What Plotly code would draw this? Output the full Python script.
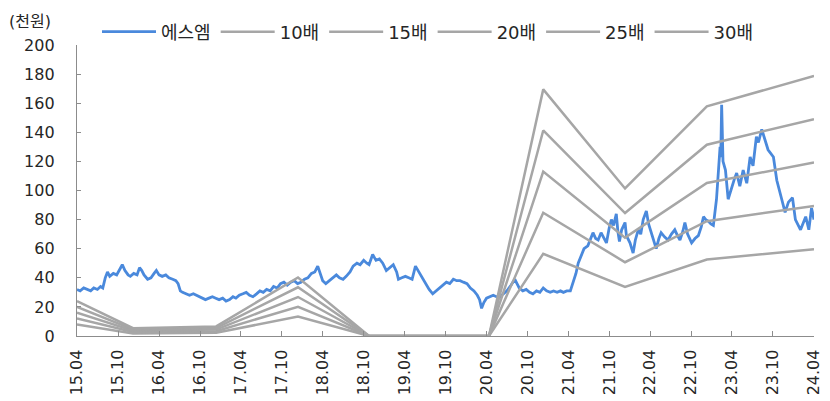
import plotly.graph_objects as go

# ---- price series (에스엠, 천원) ----
price_dates = [
 "2015-04-01","2015-04-15","2015-05-01","2015-05-15","2015-06-01","2015-06-15","2015-07-01","2015-07-15","2015-07-25",
 "2015-08-05","2015-08-15","2015-08-25","2015-09-10","2015-09-25","2015-10-05","2015-10-20","2015-11-01","2015-11-15",
 "2015-11-25","2015-12-10","2015-12-25","2016-01-05","2016-01-15","2016-01-25","2016-02-10","2016-02-25","2016-03-10",
 "2016-03-20","2016-04-01","2016-04-15","2016-05-01","2016-05-15","2016-06-01","2016-06-15","2016-06-25","2016-07-05",
 "2016-07-15","2016-08-01","2016-08-15","2016-09-01","2016-09-15","2016-10-01","2016-10-15","2016-10-25","2016-11-10",
 "2016-11-25","2016-12-10","2016-12-25","2017-01-10","2017-01-25","2017-02-10","2017-02-25","2017-03-10","2017-03-25",
 "2017-04-10","2017-04-25","2017-05-10","2017-05-25","2017-06-10","2017-06-25","2017-07-10","2017-07-25","2017-08-10",
 "2017-08-25","2017-09-10","2017-09-25","2017-10-10","2017-10-25","2017-11-10","2017-11-25","2017-12-10","2017-12-25",
 "2018-01-10","2018-01-25","2018-02-10","2018-02-25","2018-03-10","2018-03-20","2018-04-01","2018-04-15","2018-05-01",
 "2018-05-15","2018-06-01","2018-06-15","2018-07-01","2018-07-15","2018-08-01","2018-08-15","2018-09-01","2018-09-15",
 "2018-10-01","2018-10-15","2018-10-25","2018-11-10","2018-11-25","2018-12-10","2018-12-25","2019-01-10","2019-01-25",
 "2019-02-10","2019-02-25","2019-03-05","2019-03-20","2019-04-05","2019-04-20","2019-05-05","2019-05-20","2019-06-05",
 "2019-06-20","2019-07-05","2019-07-20","2019-08-05","2019-08-20","2019-09-05","2019-09-20","2019-10-05","2019-10-20",
 "2019-11-05","2019-11-20","2019-12-05","2019-12-20","2020-01-05","2020-01-20","2020-02-05","2020-02-20","2020-03-01",
 "2020-03-10","2020-03-20","2020-04-01","2020-04-15","2020-05-01","2020-05-15","2020-06-01","2020-06-15","2020-07-01",
 "2020-07-20","2020-08-05","2020-08-15","2020-08-25","2020-09-10","2020-09-25","2020-10-10","2020-10-25","2020-11-10",
 "2020-11-25","2020-12-10","2020-12-25","2021-01-10","2021-01-25","2021-02-10","2021-02-25","2021-03-10","2021-03-25",
 "2021-04-10","2021-04-20","2021-05-05","2021-05-15","2021-05-27","2021-06-10","2021-06-27","2021-07-10","2021-07-20",
 "2021-08-01","2021-08-12","2021-08-25","2021-09-05","2021-09-18","2021-09-30","2021-10-10","2021-10-20","2021-11-01",
 "2021-11-08","2021-11-15","2021-11-25","2021-12-10","2021-12-16","2022-01-01","2022-01-15","2022-01-25","2022-02-07",
 "2022-02-18","2022-03-01","2022-03-15","2022-03-25","2022-04-07","2022-04-18","2022-04-28","2022-05-10","2022-05-20",
 "2022-06-05","2022-06-20","2022-07-05","2022-07-20","2022-08-01","2022-08-12","2022-08-25","2022-09-03","2022-09-15",
 "2022-10-03","2022-10-18","2022-11-02","2022-11-15","2022-11-25","2022-12-05","2022-12-16","2022-12-28","2023-01-08",
 "2023-01-22","2023-02-01","2023-02-07","2023-02-10","2023-02-14","2023-02-20","2023-03-03","2023-03-15","2023-04-01",
 "2023-04-12","2023-04-22","2023-05-06","2023-05-21","2023-06-06","2023-06-21","2023-07-04","2023-07-19","2023-07-28",
 "2023-08-12","2023-08-25","2023-09-09","2023-10-03","2023-10-18","2023-11-09","2023-11-24","2023-12-09","2023-12-27",
 "2024-01-09","2024-02-01","2024-02-24","2024-03-09","2024-03-21","2024-04-01",
]
price_values = [
 32,31,33,32,31,33,32,34,33,
 40,44,41,43,42,45,49,45,42,
 41,43,42,47,45,42,39,40,43,
 45,42,41,42,40,39,38,36,31,
 30,29,28,29,28,27,26,25,26,
 27,26,25,26,24,25,27,26,28,
 29,30,28,27,29,31,30,32,31,
 34,33,36,37,35,37,38,36,37,
 39,40,43,44,48,44,38,36,38,
 40,42,40,39,41,44,48,50,49,
 52,50,49,56,52,53,50,45,47,
 49,44,39,40,41,40,39,48,44,
 40,36,32,29,31,33,35,37,36,
 39,38,38,37,36,33,31,28,25,
 19,23,26,27,28,27,27,29,31,
 35,39,36,33,31,32,30,29,31,
 30,33,31,30,31,30,31,30,31,
 31,36,43,50,55,60,62,68,71,
 67,66,71,68,64,74,80,76,84,
 72,65,73,78,69,64,57,66,73,
 70,80,86,77,71,66,60,67,71,
 68,66,70,73,69,66,72,78,70,
 64,67,69,75,82,80,79,77,76,
 94,117,130,123,159,120,114,94,103,
 108,112,103,114,105,123,117,137,133,
 142,135,128,123,107,94,85,92,95,
 80,73,82,73,88,80,
]

# ---- PER band (EPS, 천원) ----
band_dates = ["2015-04-01","2015-12-07","2016-12-12","2017-12-12","2018-10-25",
              "2020-04-12","2020-12-10","2021-12-10","2022-12-10","2024-04-01"]
band_eps = [0.80, 0.18, 0.22, 1.34, 0.0, 0.0, 5.65, 3.38, 5.26, 5.96]
multiples = [10, 15, 20, 25, 30]

tick_vals = ["2015-04-01","2015-10-01","2016-04-01","2016-10-01","2017-04-01","2017-10-01",
             "2018-04-01","2018-10-01","2019-04-01","2019-10-01","2020-04-01","2020-10-01",
             "2021-04-01","2021-10-01","2022-04-01","2022-10-01","2023-04-01","2023-10-01","2024-04-01"]
tick_text = ["15.04","15.10","16.04","16.10","17.04","17.10","18.04","18.10","19.04","19.10",
             "20.04","20.10","21.04","21.10","22.04","22.10","23.04","23.10","24.04"]

FONT = "DejaVu Sans, Noto Sans CJK KR, sans-serif"
TXT = "#262626"
AX = "#8C8C8C"

# page places the figure 8px from the top-left corner
OFF = 8
W, H = 830 - OFF, 401 - OFF
L, T, R, B = 77, 45, 814, 336          # target plot area in window pixels

fig = go.Figure()
fig.add_trace(go.Scatter(x=price_dates, y=price_values, mode="lines", name="에스엠",
                         line=dict(color="#4A89DC", width=2.8)))
for m in multiples:
    fig.add_trace(go.Scatter(x=band_dates, y=[e * m for e in band_eps], mode="lines",
                             name=f"{m}배", line=dict(color="#A6A6A6", width=2.5)))

fig.update_layout(
    width=W, height=H,
    margin=dict(l=L - OFF, r=W - (R - OFF), t=T - OFF, b=H - (B - OFF), autoexpand=False),
    paper_bgcolor="white", plot_bgcolor="white",
    font=dict(family=FONT, size=16, color=TXT),
    showlegend=True,
    legend=dict(orientation="h", xref="container", yref="container",
                x=(97 - OFF) / W, xanchor="left", y=1 - (32 - OFF) / H, yanchor="middle",
                font=dict(size=18, color=TXT), itemwidth=54, traceorder="normal",
                bgcolor="rgba(0,0,0,0)"),
)
fig.add_annotation(text="(천원)", xref="paper", yref="paper",
                   x=(7 - L) / (R - L), y=1 + (T - 21) / (B - T),
                   xanchor="left", yanchor="middle", showarrow=False,
                   font=dict(size=16, color=TXT, family=FONT))

fig.update_xaxes(type="date", range=["2015-04-01", "2024-04-01"], tickmode="array",
                 tickvals=tick_vals, ticktext=tick_text, tickangle=-90, automargin=False,
                 showline=True, linecolor=AX, linewidth=1.3, ticks="inside", ticklen=5,
                 tickcolor=AX, showgrid=False, zeroline=False,
                 tickfont=dict(size=16, color=TXT, family=FONT), ticklabelstandoff=6)
fig.update_yaxes(range=[0, 200], dtick=20, tick0=0, showline=True, linecolor=AX, linewidth=1.3,
                 ticks="inside", ticklen=4, tickcolor=AX, showgrid=False, zeroline=False,
                 automargin=False,
                 tickfont=dict(size=16, color=TXT, family=FONT), ticklabelstandoff=18)

fig.write_html("out.html")
